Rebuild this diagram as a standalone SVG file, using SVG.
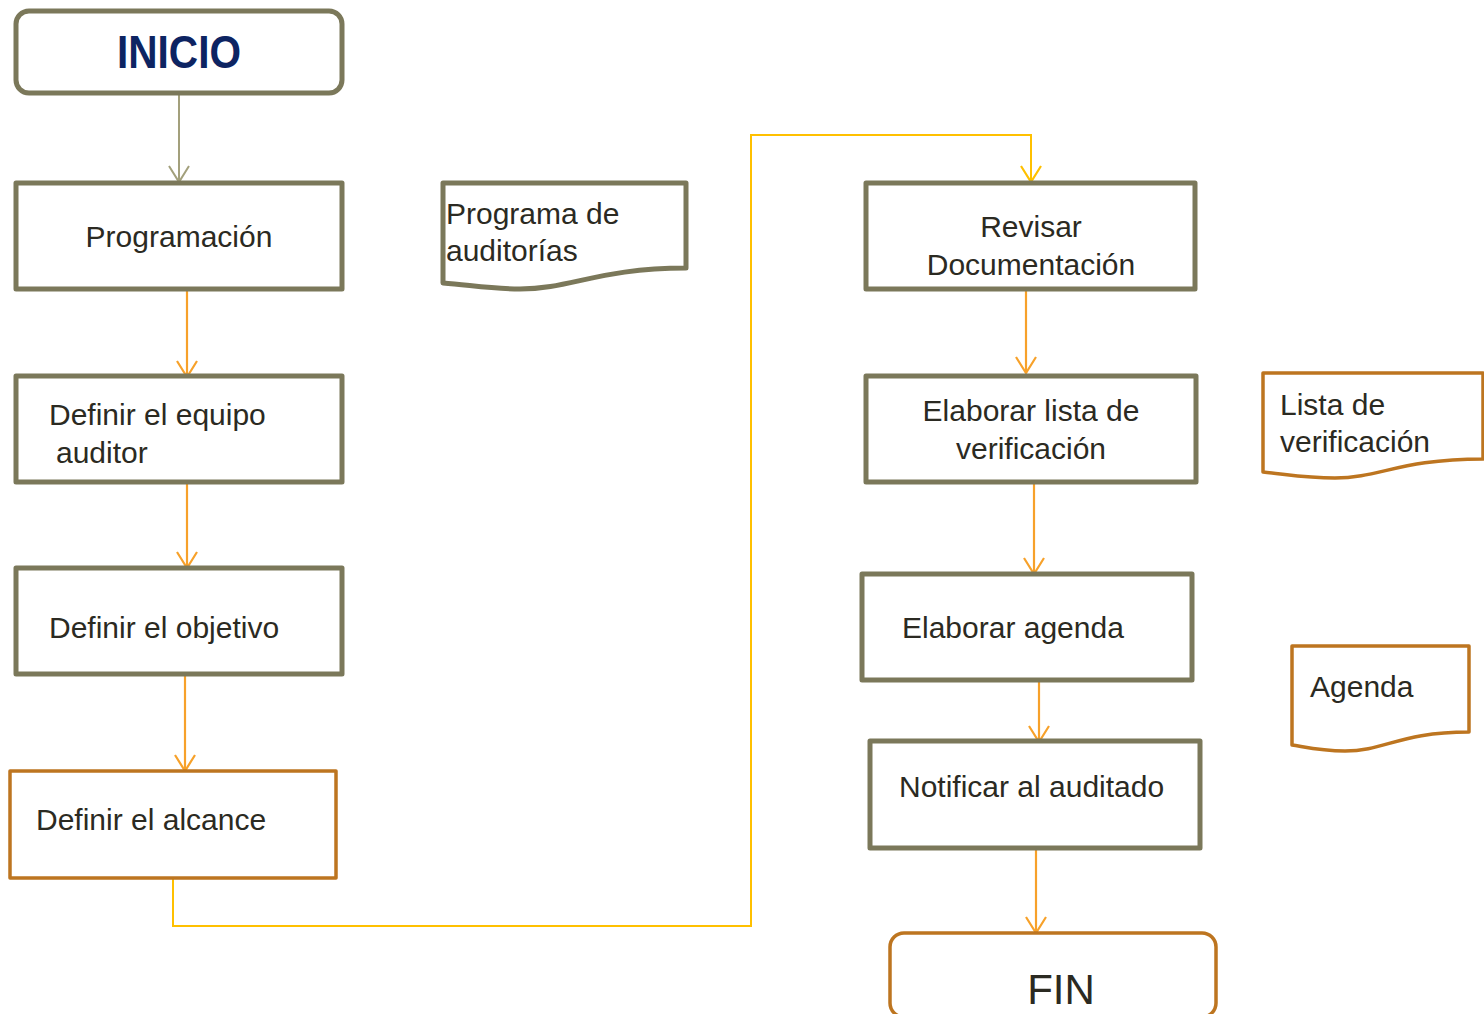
<svg xmlns="http://www.w3.org/2000/svg" width="1484" height="1014" viewBox="0 0 1484 1014">
<defs>
<style>
.box{fill:#fff;stroke:#7b785a;stroke-width:5;stroke-linejoin:round}
.obox{fill:#fff;stroke:#bd7520;stroke-width:3.5;stroke-linejoin:round}
.t{font-family:"Liberation Sans",Arial,sans-serif;font-size:30px;fill:#2b2a22}
.c{text-anchor:middle}
.org{fill:none;stroke:#f7a12a;stroke-width:2.2}
.yel{fill:none;stroke:#ffc000;stroke-width:2}
.gry{fill:none;stroke:#a3a07c;stroke-width:2}
</style>
<marker id="ao" markerWidth="22" markerHeight="22" refX="11" refY="20" markerUnits="userSpaceOnUse" viewBox="0 0 22 22">
<path d="M1,4 L11,20 L21,4" fill="none" stroke="#f7a12a" stroke-width="2.2"/>
</marker>
<marker id="ay" markerWidth="22" markerHeight="22" refX="11" refY="20" markerUnits="userSpaceOnUse" viewBox="0 0 22 22">
<path d="M1,4 L11,20 L21,4" fill="none" stroke="#ffc000" stroke-width="2.2"/>
</marker>
<marker id="ag" markerWidth="22" markerHeight="22" refX="11" refY="20" markerUnits="userSpaceOnUse" viewBox="0 0 22 22">
<path d="M1,4 L11,20 L21,4" fill="none" stroke="#a3a07c" stroke-width="2"/>
</marker>
</defs>
<rect width="1484" height="1014" fill="#fff"/>

<g id="connectors">
<line class="gry" x1="179" y1="94" x2="179" y2="182" marker-end="url(#ag)"/>
<line class="org" x1="187" y1="290" x2="187" y2="377" marker-end="url(#ao)"/>
<line class="org" x1="187" y1="482" x2="187" y2="568" marker-end="url(#ao)"/>
<line class="org" x1="185" y1="675" x2="185" y2="771" marker-end="url(#ao)"/>
<path class="yel" d="M173,879 V926 H751 V135 H1031 V182" marker-end="url(#ay)"/>
<line class="org" x1="1026" y1="283" x2="1026" y2="373" marker-end="url(#ao)"/>
<line class="org" x1="1034" y1="484" x2="1034" y2="574" marker-end="url(#ao)"/>
<line class="org" x1="1039" y1="674" x2="1039" y2="742" marker-end="url(#ao)"/>
<line class="org" x1="1036" y1="844" x2="1036" y2="933" marker-end="url(#ao)"/>
</g>

<g id="inicio">
<rect class="box" x="16" y="11" width="326" height="82" rx="13"/>
<text x="179" y="68" text-anchor="middle" textLength="124" lengthAdjust="spacingAndGlyphs" style="font-family:'Liberation Sans',Arial,sans-serif;font-size:46px;font-weight:bold;fill:#0d2462">INICIO</text>
</g>

<g id="programacion">
<rect class="box" x="16" y="183" width="326" height="106"/>
<text class="t c" x="179" y="247">Programación</text>
</g>

<g id="equipo">
<rect class="box" x="16" y="376" width="326" height="106"/>
<text class="t" x="49" y="425">Definir el equipo</text>
<text class="t" x="56" y="463">auditor</text>
</g>

<g id="objetivo">
<rect class="box" x="16" y="568" width="326" height="106"/>
<text class="t" x="49" y="638">Definir el objetivo</text>
</g>

<g id="alcance">
<rect class="obox" x="10" y="771" width="326" height="107"/>
<text class="t" x="36" y="830">Definir el alcance</text>
</g>

<g id="programa-doc">
<path class="box" d="M443,183 H686 V268 C600,268 570,289 520,289 C490,289 470,285 443,283 Z"/>
<text class="t" x="446" y="224">Programa de</text>
<text class="t" x="446" y="261">auditorías</text>
</g>

<g id="revisar">
<rect class="box" x="866" y="183" width="329" height="106"/>
<text class="t c" x="1031" y="237">Revisar</text>
<text class="t c" x="1031" y="275">Documentación</text>
</g>

<g id="lista">
<rect class="box" x="866" y="376" width="330" height="106"/>
<text class="t c" x="1031" y="421">Elaborar lista de</text>
<text class="t c" x="1031" y="459">verificación</text>
</g>

<g id="lista-doc">
<path class="obox" d="M1263,373 H1483 V459 C1400,459 1380,478 1335,478 C1305,478 1285,474 1263,472 Z"/>
<text class="t" x="1280" y="415">Lista de</text>
<text class="t" x="1280" y="452">verificación</text>
</g>

<g id="agenda">
<rect class="box" x="862" y="574" width="330" height="106"/>
<text class="t" x="902" y="638">Elaborar agenda</text>
</g>

<g id="agenda-doc">
<path class="obox" d="M1292,646 H1469 V732 C1400,732 1385,751 1345,751 C1320,751 1305,747 1292,745 Z"/>
<text class="t" x="1310" y="697">Agenda</text>
</g>

<g id="notificar">
<rect class="box" x="870" y="741" width="330" height="107"/>
<text class="t" x="899" y="797">Notificar al auditado</text>
</g>

<g id="fin">
<rect class="obox" x="890" y="933" width="326" height="84" rx="14"/>
<text x="1061" y="1004" text-anchor="middle" style="font-family:'Liberation Sans',Arial,sans-serif;font-size:42px;fill:#2b2a22">FIN</text>
</g>
</svg>
